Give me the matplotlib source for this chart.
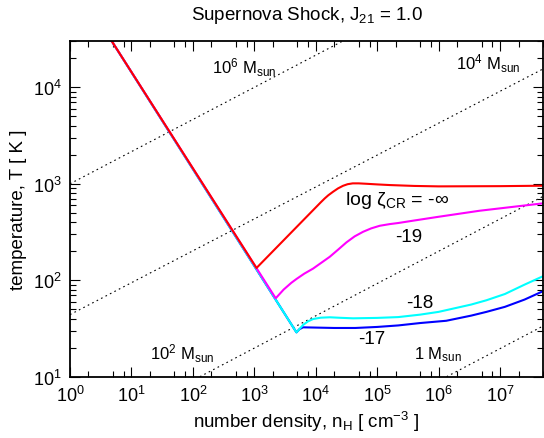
import numpy as np
import matplotlib
matplotlib.use("Agg")
import matplotlib.pyplot as plt
from matplotlib.ticker import LogLocator, NullFormatter

plt.rcParams['font.family'] = ['Liberation Sans', 'DejaVu Sans']
plt.rcParams['mathtext.fontset'] = 'custom'
plt.rcParams['mathtext.rm'] = 'Liberation Sans'
plt.rcParams['mathtext.it'] = 'Liberation Sans:italic'
plt.rcParams['mathtext.default'] = 'regular'

################################ Donnees ######################################

# log zeta_CR = -inf (rouge)
n_red = [4.5, 1086, 1.2e4, 1.4e4, 1.6e4, 1.91e4, 2.3e4, 2.78e4, 3.3e4, 4.0e4, 5e4,
         6.7e4, 1e5, 1.6e5, 4e5, 1e6, 1e7, 5e7]
T_red = [3.2e4, 134, 640, 705, 760, 826, 895, 953, 990, 1010, 1010,
         1000, 985, 970, 950, 940, 945, 955]

# -19 (magenta)
n_mag = [4.5, 2230, 3000, 4000, 4850, 6500, 9040, 1.2e4, 1.69e4, 2.3e4, 3.16e4,
         4.3e4, 5.9e4, 8e4, 1.1e5, 1.6e5, 2.2e5, 3.8e5, 1e6, 4.6e6, 5e7]
T_mag = [3.2e4, 65, 80, 94, 103, 117, 132, 150, 175, 207, 247,
         285, 318, 345, 367, 382, 392, 414, 455, 525, 627]

# -18 (cyan)
n_cya = [4.5, 4850, 5500, 6220, 7500, 9040, 1.2e4, 1.69e4, 2.5e4, 4.05e4, 1e5,
         2.2e5, 5e5, 1e6, 3.4e6, 6e6, 1.2e7, 2.5e7, 5e7]
T_cya = [3.2e4, 28.8, 31.5, 34.4, 37.5, 39.6, 40.9, 41.3, 40.8, 40.3, 40.7,
         41.5, 44, 47, 56, 62, 72, 90, 110]

# -17 (bleu)
n_blu = [4.5, 4850, 5400, 6200, 1e4, 2e4, 4.4e4, 1e5, 2.2e5, 5e5, 1.33e6,
         3.4e6, 6e6, 1.2e7, 2.5e7, 5e7]
T_blu = [3.2e4, 28.8, 31, 32.5, 32.3, 32.0, 32.0, 32.8, 34.0, 36, 38,
         43, 47, 53, 63, 77]

# droites de masse de Jeans (extremites)
jeans_labels = ['10$^6$ M$_{sun}$', '10$^4$ M$_{sun}$', '10$^2$ M$_{sun}$', '1 M$_{sun}$']
jeans_n = [[1, 2.7e4], [1, 5e7], [130, 5e7], [1.35e6, 5e7]]
jeans_T = [[1000, 3.0e4], [44, 15500], [10, 740], [10, 33.5]]
jeans_lab_n = [675, 6.4e6, 66, 9.6e5]
jeans_lab_T = [1.62e4, 1.82e4, 17.6, 17.5]

# graduations
x_ticks = [1e0, 1e1, 1e2, 1e3, 1e4, 1e5, 1e6, 1e7]
y_ticks = [1e1, 1e2, 1e3, 1e4]

################################ Figure #######################################

fig = plt.figure(figsize=(5.44, 4.39), dpi=100)
ax = fig.add_axes([70/544, 1-377.7/439, 473/544, 335.4/439])

for i in range(len(jeans_n)):
    ax.plot(jeans_n[i], jeans_T[i], color='black', lw=0.8, ls=(0, (1.5, 3)))
    ax.text(jeans_lab_n[i], jeans_lab_T[i], jeans_labels[i], fontsize=12,
            ha='center', va='center')

# ordre: bleu en dessous, rouge au dessus
ax.plot(n_blu, T_blu, color='#0000ff', lw=1.5)
ax.plot(n_cya, T_cya, color='#00ffff', lw=1.5)
ax.plot(n_mag, T_mag, color='#ff00ff', lw=1.5)
ax.plot(n_red, T_red, color='#ff0000', lw=1.5)

ax.text(2.95e4, 616, 'log ζ$_{CR}$ = -∞', fontsize=14, ha='left', va='baseline')
ax.text(3.2e5, 285, '-19', fontsize=13.5, ha='center', va='center')
ax.text(4.9e5, 59, '-18', fontsize=13.5, ha='center', va='center')
ax.text(8.1e4, 25, '-17', fontsize=13.5, ha='center', va='center')

ax.set_xscale('log')
ax.set_yscale('log')
ax.set_xticks(x_ticks)
ax.set_yticks(y_ticks)
ax.set_xlim(1, 5e7)
ax.set_ylim(10, 3e4)

ax.xaxis.set_minor_locator(LogLocator(base=10, subs=[2, 5, 7.5], numticks=20))
ax.xaxis.set_minor_formatter(NullFormatter())
ax.yaxis.set_minor_locator(LogLocator(base=10, subs=np.arange(2, 10), numticks=20))
ax.yaxis.set_minor_formatter(NullFormatter())

ax.tick_params(which='both', direction='in', top=True, right=True, labelsize=13, pad=6)
ax.tick_params(which='major', length=7, width=0.8)
ax.tick_params(which='minor', length=4, width=0.8)
for s in ax.spines.values():
    s.set_linewidth(1.3)

ax.set_xlabel('number density, n$_H$ [ cm$^{-3}$ ]', fontsize=13.5, labelpad=3)
ax.set_ylabel('temperature, T [ K ]', fontsize=13.5, labelpad=4)
ax.set_title('Supernova Shock, J$_{21}$ = 1.0', fontsize=13.5, pad=16)

fig.savefig('out.png', dpi=100)
